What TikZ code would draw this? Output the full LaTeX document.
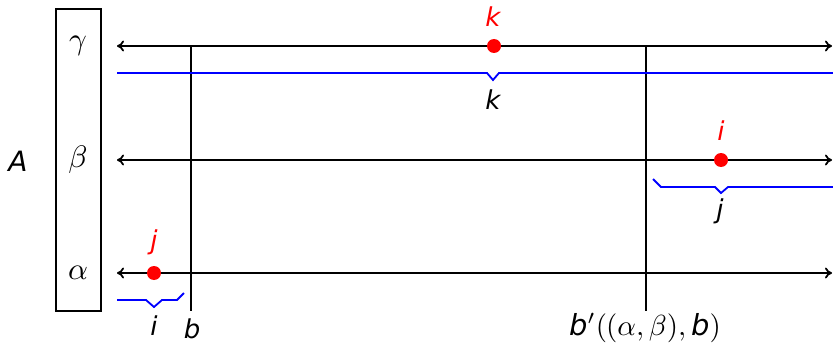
\documentclass[tikz,border=0pt]{standalone}
\usepackage{fontspec}
\usepackage{graphicx}
\usetikzlibrary{arrows.meta}
\newfontfamily\lab{DejaVu Sans}
\begin{document}
\begin{tikzpicture}[x=1pt,y=-1pt,
  axis/.style={line width=1.8pt},
  arr/.style={line width=1.8pt,{To[length=7pt,width=11pt]}-{To[length=7pt,width=11pt]}},
  bracel/.style={blue,line width=1.8pt},
  dot/.style={circle,fill=red,inner sep=0pt,minimum size=14pt},
  lbl/.style={inner sep=0pt},
  rlbl/.style={inner sep=0pt,text=red},
  gr/.style={inner sep=0pt}]
\newcommand\ltr[1]{\scalebox{2.6}{\lab\itshape\fontsize{10}{12}\selectfont #1}}
\useasboundingbox (0,0) rectangle (833,345);
\node[draw,line width=1.8pt,minimum width=45pt,minimum height=302pt,inner sep=0pt] (box) at (78.5,160) {};
\node[gr] (gamma) at (78,46) {\scalebox{3.1}{$\gamma$}};
\node[gr] (beta) at (78,160) {\scalebox{3.1}{$\beta$}};
\node[gr] (alpha) at (78,273) {\scalebox{3.1}{$\alpha$}};
\node[lbl] (A) at (18,161) {\scalebox{2.8}{\lab\itshape\fontsize{10}{12}\selectfont A}};
% horizontal arrows
\coordinate (gL) at (117,46); \coordinate (gR) at (832,46);
\coordinate (bL) at (117,160); \coordinate (bR) at (832,160);
\coordinate (aL) at (117,273); \coordinate (aR) at (832,273);
\draw[arr] (gL) -- (gR);
\draw[arr] (bL) -- (bR);
\draw[arr] (aL) -- (aR);
% vertical lines
\coordinate (v1T) at (191,46); \coordinate (v1B) at (191,311);
\coordinate (v2T) at (646,46); \coordinate (v2B) at (646,311);
\draw[axis] (v1T) -- (v1B);
\draw[axis] (v2T) -- (v2B);
% blue braces
\draw[bracel] (117,73) -- (487,73) -- (493,80) -- (499,73) -- (833,73);
\draw[bracel] (653,179) -- (661,187) -- (715,187) -- (721,193) -- (728,187) -- (833,187);
\draw[bracel] (117,300) -- (146,300) -- (154,307) -- (162,300) -- (177,300) -- (184,293);
% dots
\node[dot] (dk) at (494,46) {};
\node[dot] (di) at (721,160) {};
\node[dot] (dj) at (154,273) {};
% labels
\node[rlbl] (rk) at (493,17) {\ltr{k}};
\node[lbl] (bk) at (493,100) {\ltr{k}};
\node[rlbl] (ri) at (721,131) {\ltr{i}};
\node[lbl] (bj) at (720,211) {\ltr{j}};
\node[rlbl] (rj) at (154,242) {\ltr{j}};
\node[lbl] (bi) at (154,326) {\ltr{i}};
\node[lbl] (bb) at (192,329) {\ltr{b}};
\node[inner sep=0pt] (bp) at (645,328) {\scalebox{2.9}{\lab\itshape\fontsize{10}{12}\selectfont b$'(\kern-0.3pt(\alpha,\beta),\,$b$)$}};
\end{tikzpicture}
\end{document}
